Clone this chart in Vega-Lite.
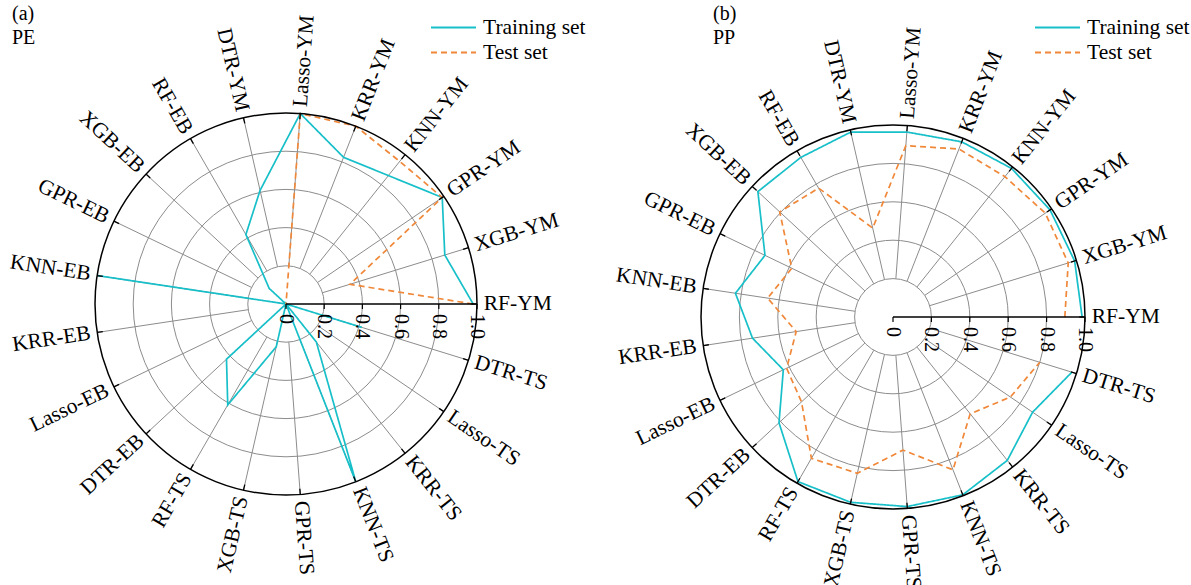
{
"$schema": "https://vega.github.io/schema/vega-lite/v6.json",
"padding": 0,
"autosize": {"type": "pad"},
"background": "white",
"bounds": "flush",
"spacing": 0,
"config": {
  "view": {"stroke": null},
  "legend": {"padding": 0, "symbolType": "stroke", "symbolSize": 2025, "symbolStrokeWidth": 1.8, "labelFont": "Liberation Serif", "labelFontSize": 21.5, "labelColor": "black", "rowPadding": 0, "clipHeight": 25, "labelOffset": 6, "titleFontSize": 0}
},
"datasets": {
  "cats": [{"cat":"RF-YM","i":0},{"cat":"XGB-YM","i":1},{"cat":"GPR-YM","i":2},{"cat":"KNN-YM","i":3},{"cat":"KRR-YM","i":4},{"cat":"Lasso-YM","i":5},{"cat":"DTR-YM","i":6},{"cat":"RF-EB","i":7},{"cat":"XGB-EB","i":8},{"cat":"GPR-EB","i":9},{"cat":"KNN-EB","i":10},{"cat":"KRR-EB","i":11},{"cat":"Lasso-EB","i":12},{"cat":"DTR-EB","i":13},{"cat":"RF-TS","i":14},{"cat":"XGB-TS","i":15},{"cat":"GPR-TS","i":16},{"cat":"KNN-TS","i":17},{"cat":"KRR-TS","i":18},{"cat":"Lasso-TS","i":19},{"cat":"DTR-TS","i":20}],
  "ticks": [{"t":0,"lab":"0"},{"t":0.2,"lab":"0.2"},{"t":0.4,"lab":"0.4"},{"t":0.6,"lab":"0.6"},{"t":0.8,"lab":"0.8"},{"t":1,"lab":"1.0"}],
  "rings": [{"r":0.2},{"r":0.4},{"r":0.6},{"r":0.8},{"r":1}],
  "pe": [
    {"set":"Training set","cat":"RF-YM","v":0.98},{"set":"Training set","cat":"XGB-YM","v":0.87},{"set":"Training set","cat":"GPR-YM","v":0.99},{"set":"Training set","cat":"KNN-YM","v":0.86},{"set":"Training set","cat":"KRR-YM","v":0.825},{"set":"Training set","cat":"Lasso-YM","v":1.0},{"set":"Training set","cat":"DTR-YM","v":0.61},{"set":"Training set","cat":"RF-EB","v":0.42},{"set":"Training set","cat":"XGB-EB","v":0.12},{"set":"Training set","cat":"GPR-EB","v":0},{"set":"Training set","cat":"KNN-EB","v":1.0},{"set":"Training set","cat":"KRR-EB","v":0},{"set":"Training set","cat":"Lasso-EB","v":0},{"set":"Training set","cat":"DTR-EB","v":0.425},{"set":"Training set","cat":"RF-TS","v":0.61},{"set":"Training set","cat":"XGB-TS","v":0.23},{"set":"Training set","cat":"GPR-TS","v":0},{"set":"Training set","cat":"KNN-TS","v":1.0},{"set":"Training set","cat":"KRR-TS","v":0.255},{"set":"Training set","cat":"Lasso-TS","v":0},{"set":"Training set","cat":"DTR-TS","v":0.415},
    {"set":"Test set","cat":"RF-YM","v":0.98},{"set":"Test set","cat":"XGB-YM","v":0.35},{"set":"Test set","cat":"GPR-YM","v":0.99},{"set":"Test set","cat":"KNN-YM","v":0.955},{"set":"Test set","cat":"KRR-YM","v":1.0},{"set":"Test set","cat":"Lasso-YM","v":1.0},{"set":"Test set","cat":"DTR-YM","v":0},{"set":"Test set","cat":"RF-EB","v":0},{"set":"Test set","cat":"XGB-EB","v":0},{"set":"Test set","cat":"GPR-EB","v":0},{"set":"Test set","cat":"KNN-EB","v":0},{"set":"Test set","cat":"KRR-EB","v":0},{"set":"Test set","cat":"Lasso-EB","v":0},{"set":"Test set","cat":"DTR-EB","v":0},{"set":"Test set","cat":"RF-TS","v":0},{"set":"Test set","cat":"XGB-TS","v":0},{"set":"Test set","cat":"GPR-TS","v":0},{"set":"Test set","cat":"KNN-TS","v":0},{"set":"Test set","cat":"KRR-TS","v":0},{"set":"Test set","cat":"Lasso-TS","v":0},{"set":"Test set","cat":"DTR-TS","v":0}
  ],
  "pp": [
    {"set":"Training set","cat":"RF-YM","v":0.985},{"set":"Training set","cat":"XGB-YM","v":0.99},{"set":"Training set","cat":"GPR-YM","v":0.99},{"set":"Training set","cat":"KNN-YM","v":0.99},{"set":"Training set","cat":"KRR-YM","v":0.98},{"set":"Training set","cat":"Lasso-YM","v":0.966},{"set":"Training set","cat":"DTR-YM","v":0.988},{"set":"Training set","cat":"RF-EB","v":0.96},{"set":"Training set","cat":"XGB-EB","v":0.96},{"set":"Training set","cat":"GPR-EB","v":0.74},{"set":"Training set","cat":"KNN-EB","v":0.83},{"set":"Training set","cat":"KRR-EB","v":0.74},{"set":"Training set","cat":"Lasso-EB","v":0.634},{"set":"Training set","cat":"DTR-EB","v":0.81},{"set":"Training set","cat":"RF-TS","v":0.99},{"set":"Training set","cat":"XGB-TS","v":0.99},{"set":"Training set","cat":"GPR-TS","v":0.99},{"set":"Training set","cat":"KNN-TS","v":0.995},{"set":"Training set","cat":"KRR-TS","v":0.955},{"set":"Training set","cat":"Lasso-TS","v":0.88},{"set":"Training set","cat":"DTR-TS","v":0.975},
    {"set":"Test set","cat":"RF-YM","v":0.895},{"set":"Test set","cat":"XGB-YM","v":0.955},{"set":"Test set","cat":"GPR-YM","v":0.96},{"set":"Test set","cat":"KNN-YM","v":0.935},{"set":"Test set","cat":"KRR-YM","v":0.94},{"set":"Test set","cat":"Lasso-YM","v":0.895},{"set":"Test set","cat":"DTR-YM","v":0.475},{"set":"Test set","cat":"RF-EB","v":0.775},{"set":"Test set","cat":"XGB-EB","v":0.805},{"set":"Test set","cat":"GPR-EB","v":0.585},{"set":"Test set","cat":"KNN-EB","v":0.66},{"set":"Test set","cat":"KRR-EB","v":0.51},{"set":"Test set","cat":"Lasso-EB","v":0.615},{"set":"Test set","cat":"DTR-EB","v":0.65},{"set":"Test set","cat":"RF-TS","v":0.85},{"set":"Test set","cat":"XGB-TS","v":0.835},{"set":"Test set","cat":"GPR-TS","v":0.695},{"set":"Test set","cat":"KNN-TS","v":0.855},{"set":"Test set","cat":"KRR-TS","v":0.645},{"set":"Test set","cat":"Lasso-TS","v":0.74},{"set":"Test set","cat":"DTR-TS","v":0.80}
  ]
},
"resolve": {
  "scale": {"x": "independent", "y": "independent", "radius": "independent", "stroke": "independent", "strokeDash": "independent"},
  "legend": {"stroke": "independent", "strokeDash": "independent"}
},
"hconcat": [
{
  "width": 590, "height": 585,
  "title": {"text": "(a)", "subtitle": "PE", "anchor": "start", "frame": "group", "offset": -48, "dx": 12, "font": "Liberation Serif", "fontSize": 20, "fontWeight": "normal", "color": "black", "subtitleFont": "Liberation Serif", "subtitleFontSize": 20, "subtitleColor": "black", "subtitlePadding": 4},
  "encoding": {
    "x": {"field": "px", "type": "quantitative", "scale": {"domain": [-1.49738, 1.59162], "nice": false, "zero": false}, "axis": null},
    "y": {"field": "py", "type": "quantitative", "scale": {"domain": [-1.47120, 1.59162], "nice": false, "zero": false}, "axis": null}
  },
  "layer": [
    {"data": {"name": "rings"}, "transform": [{"filter": "datum.r < 1"}, {"calculate": "0", "as": "px"}, {"calculate": "0", "as": "py"}],
     "mark": {"type": "arc", "theta": 0, "theta2": 6.2832, "filled": false, "stroke": "#8c8c8c", "strokeWidth": 1},
     "encoding": {"radius": {"field": "r", "type": "quantitative", "stack": null, "scale": {"type": "linear", "domain": [0, 1], "range": [0, 191], "zero": true}, "legend": null}}},
    {"data": {"name": "cats"}, "transform": [{"filter": "datum.i > 0"}, {"calculate": "datum.i*2*PI/21", "as": "th"}, {"calculate": "0.2*cos(datum.th)", "as": "px"}, {"calculate": "0.2*sin(datum.th)", "as": "py"}, {"calculate": "cos(datum.th)", "as": "qx"}, {"calculate": "sin(datum.th)", "as": "qy"}],
     "mark": {"type": "rule", "color": "#8c8c8c", "strokeWidth": 1},
     "encoding": {"x2": {"field": "qx"}, "y2": {"field": "qy"}}},
    {"data": {"name": "pe"}, "transform": [{"lookup": "cat", "from": {"data": {"name": "cats"}, "key": "cat", "fields": ["i"]}}, {"calculate": "datum.i*2*PI/21", "as": "th"}, {"calculate": "datum.v*cos(datum.th)", "as": "px"}, {"calculate": "datum.v*sin(datum.th)", "as": "py"}],
     "mark": {"type": "line", "strokeWidth": 1.7},
     "encoding": {
       "order": {"field": "i", "type": "quantitative"},
       "stroke": {"field": "set", "type": "nominal", "scale": {"domain": ["Training set", "Test set"], "range": ["#17BFC9", "#F0883A"]}, "legend": {"title": null, "orient": "none", "legendX": 430, "legendY": 15}},
       "strokeDash": {"field": "set", "type": "nominal", "scale": {"domain": ["Training set", "Test set"], "range": [[1, 0], [6, 4]]}, "legend": {"title": null, "orient": "none", "legendX": 430, "legendY": 15}}
     }},
    {"data": {"name": "rings"}, "transform": [{"filter": "datum.r == 1"}, {"calculate": "0", "as": "px"}, {"calculate": "0", "as": "py"}],
     "mark": {"type": "arc", "theta": 0, "theta2": 6.2832, "filled": false, "stroke": "black", "strokeWidth": 1.5},
     "encoding": {"radius": {"field": "r", "type": "quantitative", "stack": null, "scale": {"type": "linear", "domain": [0, 1], "range": [0, 191], "zero": true}, "legend": null}}},
    {"data": {"name": "cats"}, "transform": [{"calculate": "datum.i*2*PI/21", "as": "th"}, {"calculate": "0.97*cos(datum.th)", "as": "px"}, {"calculate": "0.97*sin(datum.th)", "as": "py"}, {"calculate": "cos(datum.th)", "as": "qx"}, {"calculate": "sin(datum.th)", "as": "qy"}],
     "mark": {"type": "rule", "color": "black", "strokeWidth": 1.3},
     "encoding": {"x2": {"field": "qx"}, "y2": {"field": "qy"}}},
    {"data": {"name": "ticks"}, "transform": [{"filter": "datum.t == 1"}, {"calculate": "0", "as": "px"}, {"calculate": "0", "as": "py"}],
     "mark": {"type": "rule", "color": "black", "strokeWidth": 1.5},
     "encoding": {"x2": {"field": "t"}}},
    {"data": {"name": "ticks"}, "transform": [{"calculate": "datum.t", "as": "px"}, {"calculate": "0", "as": "py"}, {"calculate": "-0.026", "as": "qy"}],
     "mark": {"type": "rule", "color": "black", "strokeWidth": 1.2},
     "encoding": {"y2": {"field": "qy"}}},
    {"data": {"name": "ticks"}, "transform": [{"calculate": "datum.t", "as": "px"}, {"calculate": "0", "as": "py"}],
     "mark": {"type": "text", "angle": 90, "align": "left", "baseline": "middle", "dx": 10, "font": "Liberation Serif", "fontSize": 20, "color": "black"},
     "encoding": {"text": {"field": "lab"}}},
    {"data": {"name": "cats"}, "transform": [{"filter": "datum.i <= 5 || datum.i >= 16"}, {"calculate": "datum.i*2*PI/21", "as": "th"}, {"calculate": "1.035*cos(datum.th)", "as": "px"}, {"calculate": "1.035*sin(datum.th)", "as": "py"}, {"calculate": "(360 - datum.i*360/21) % 360", "as": "ang"}],
     "mark": {"type": "text", "align": "left", "baseline": "middle", "font": "Liberation Serif", "fontSize": 21.5, "color": "black"},
     "encoding": {"text": {"field": "cat"}, "angle": {"field": "ang", "type": "quantitative", "scale": null}}},
    {"data": {"name": "cats"}, "transform": [{"filter": "datum.i >= 6 && datum.i <= 15"}, {"calculate": "datum.i*2*PI/21", "as": "th"}, {"calculate": "1.035*cos(datum.th)", "as": "px"}, {"calculate": "1.035*sin(datum.th)", "as": "py"}, {"calculate": "(540 - datum.i*360/21) % 360", "as": "ang"}],
     "mark": {"type": "text", "align": "right", "baseline": "middle", "font": "Liberation Serif", "fontSize": 21.5, "color": "black"},
     "encoding": {"text": {"field": "cat"}, "angle": {"field": "ang", "type": "quantitative", "scale": null}}}
  ]
},
{
  "width": 601, "height": 585,
  "title": {"text": "(b)", "subtitle": "PP", "anchor": "start", "frame": "group", "offset": -48, "dx": 123, "font": "Liberation Serif", "fontSize": 20, "fontWeight": "normal", "color": "black", "subtitleFont": "Liberation Serif", "subtitleFontSize": 20, "subtitleColor": "black", "subtitlePadding": 4},
  "encoding": {
    "x": {"field": "px", "type": "quantitative", "scale": {"domain": [-1.578125, 1.552083], "nice": false, "zero": false}, "axis": null},
    "y": {"field": "py", "type": "quantitative", "scale": {"domain": [-1.395833, 1.651042], "nice": false, "zero": false}, "axis": null}
  },
  "layer": [
    {"data": {"name": "rings"}, "transform": [{"filter": "datum.r < 1"}, {"calculate": "0", "as": "px"}, {"calculate": "0", "as": "py"}],
     "mark": {"type": "arc", "theta": 0, "theta2": 6.2832, "filled": false, "stroke": "#8c8c8c", "strokeWidth": 1},
     "encoding": {"radius": {"field": "r", "type": "quantitative", "stack": null, "scale": {"type": "linear", "domain": [0, 1], "range": [0, 192], "zero": true}, "legend": null}}},
    {"data": {"name": "cats"}, "transform": [{"filter": "datum.i > 0"}, {"calculate": "datum.i*2*PI/21", "as": "th"}, {"calculate": "0.2*cos(datum.th)", "as": "px"}, {"calculate": "0.2*sin(datum.th)", "as": "py"}, {"calculate": "cos(datum.th)", "as": "qx"}, {"calculate": "sin(datum.th)", "as": "qy"}],
     "mark": {"type": "rule", "color": "#8c8c8c", "strokeWidth": 1},
     "encoding": {"x2": {"field": "qx"}, "y2": {"field": "qy"}}},
    {"data": {"name": "pp"}, "transform": [{"lookup": "cat", "from": {"data": {"name": "cats"}, "key": "cat", "fields": ["i"]}}, {"calculate": "datum.i*2*PI/21", "as": "th"}, {"calculate": "datum.v*cos(datum.th)", "as": "px"}, {"calculate": "datum.v*sin(datum.th)", "as": "py"}],
     "mark": {"type": "line", "strokeWidth": 1.7},
     "encoding": {
       "order": {"field": "i", "type": "quantitative"},
       "stroke": {"field": "set", "type": "nominal", "scale": {"domain": ["Training set", "Test set"], "range": ["#17BFC9", "#F0883A"]}, "legend": {"title": null, "orient": "none", "legendX": 444, "legendY": 15}},
       "strokeDash": {"field": "set", "type": "nominal", "scale": {"domain": ["Training set", "Test set"], "range": [[1, 0], [6, 4]]}, "legend": {"title": null, "orient": "none", "legendX": 444, "legendY": 15}}
     }},
    {"data": {"name": "rings"}, "transform": [{"filter": "datum.r == 1"}, {"calculate": "0", "as": "px"}, {"calculate": "0", "as": "py"}],
     "mark": {"type": "arc", "theta": 0, "theta2": 6.2832, "filled": false, "stroke": "black", "strokeWidth": 1.5},
     "encoding": {"radius": {"field": "r", "type": "quantitative", "stack": null, "scale": {"type": "linear", "domain": [0, 1], "range": [0, 192], "zero": true}, "legend": null}}},
    {"data": {"name": "cats"}, "transform": [{"calculate": "datum.i*2*PI/21", "as": "th"}, {"calculate": "0.97*cos(datum.th)", "as": "px"}, {"calculate": "0.97*sin(datum.th)", "as": "py"}, {"calculate": "cos(datum.th)", "as": "qx"}, {"calculate": "sin(datum.th)", "as": "qy"}],
     "mark": {"type": "rule", "color": "black", "strokeWidth": 1.3},
     "encoding": {"x2": {"field": "qx"}, "y2": {"field": "qy"}}},
    {"data": {"name": "ticks"}, "transform": [{"filter": "datum.t == 1"}, {"calculate": "0", "as": "px"}, {"calculate": "0", "as": "py"}],
     "mark": {"type": "rule", "color": "black", "strokeWidth": 1.5},
     "encoding": {"x2": {"field": "t"}}},
    {"data": {"name": "ticks"}, "transform": [{"calculate": "datum.t", "as": "px"}, {"calculate": "0", "as": "py"}, {"calculate": "-0.026", "as": "qy"}],
     "mark": {"type": "rule", "color": "black", "strokeWidth": 1.2},
     "encoding": {"y2": {"field": "qy"}}},
    {"data": {"name": "ticks"}, "transform": [{"calculate": "datum.t", "as": "px"}, {"calculate": "0", "as": "py"}],
     "mark": {"type": "text", "angle": 90, "align": "left", "baseline": "middle", "dx": 10, "font": "Liberation Serif", "fontSize": 20, "color": "black"},
     "encoding": {"text": {"field": "lab"}}},
    {"data": {"name": "cats"}, "transform": [{"filter": "datum.i <= 5 || datum.i >= 16"}, {"calculate": "datum.i*2*PI/21", "as": "th"}, {"calculate": "1.035*cos(datum.th)", "as": "px"}, {"calculate": "1.035*sin(datum.th)", "as": "py"}, {"calculate": "(360 - datum.i*360/21) % 360", "as": "ang"}],
     "mark": {"type": "text", "align": "left", "baseline": "middle", "font": "Liberation Serif", "fontSize": 21.5, "color": "black"},
     "encoding": {"text": {"field": "cat"}, "angle": {"field": "ang", "type": "quantitative", "scale": null}}},
    {"data": {"name": "cats"}, "transform": [{"filter": "datum.i >= 6 && datum.i <= 15"}, {"calculate": "datum.i*2*PI/21", "as": "th"}, {"calculate": "1.035*cos(datum.th)", "as": "px"}, {"calculate": "1.035*sin(datum.th)", "as": "py"}, {"calculate": "(540 - datum.i*360/21) % 360", "as": "ang"}],
     "mark": {"type": "text", "align": "right", "baseline": "middle", "font": "Liberation Serif", "fontSize": 21.5, "color": "black"},
     "encoding": {"text": {"field": "cat"}, "angle": {"field": "ang", "type": "quantitative", "scale": null}}}
  ]
}
]
}
